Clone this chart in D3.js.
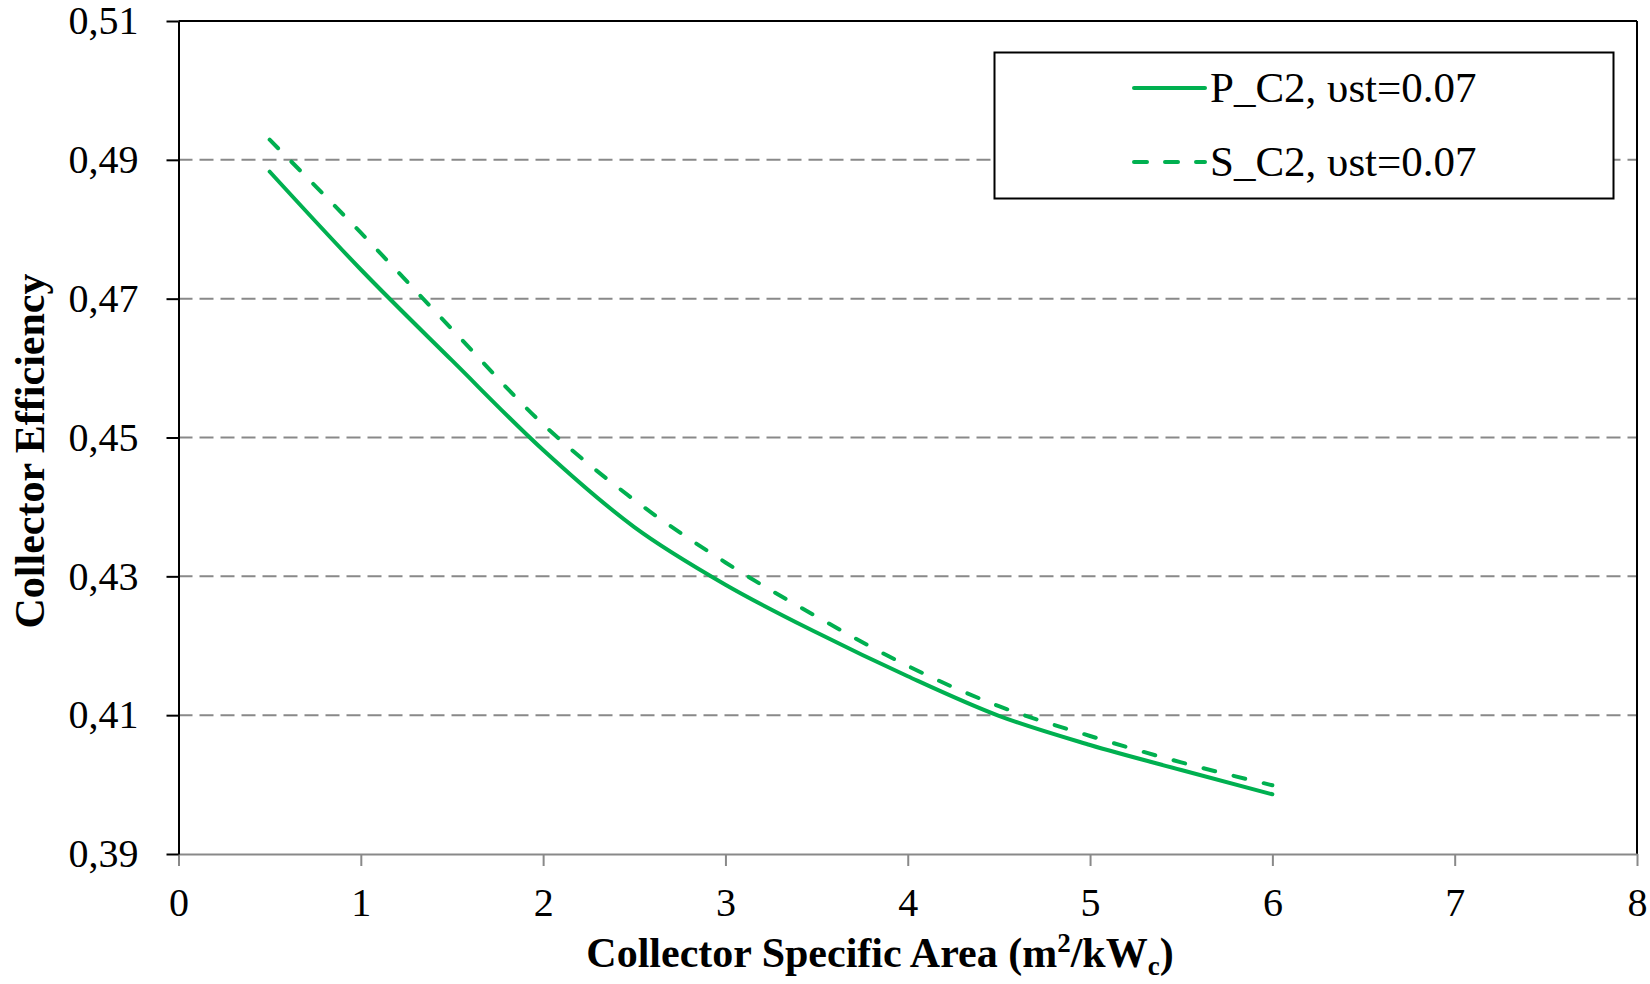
<!DOCTYPE html>
<html>
<head>
<meta charset="utf-8">
<script src="https://cdnjs.cloudflare.com/ajax/libs/d3/7.8.5/d3.min.js"></script>
<style>
  body { margin: 0; background: #fff; }
  svg text { font-family: "Liberation Serif", "Times New Roman", serif; fill: #000; }
</style>
</head>
<body>
<div id="chart"></div>
<script>
// data
var areas = [0.5, 1, 1.5, 2, 2.5, 3, 3.5, 4, 4.5, 5, 5.5, 6];
var effP = [0.4883, 0.4742, 0.4611, 0.4482, 0.4371, 0.4288, 0.4219, 0.4156, 0.4099, 0.4057, 0.4021, 0.3986];
var effS = [0.4929, 0.4795, 0.4656, 0.4519, 0.4410, 0.4320, 0.4242, 0.4171, 0.4113, 0.4070, 0.4032, 0.3999];
var seriesNames = ['P_C2, \u03c5st=0.07', 'S_C2, \u03c5st=0.07'];
var xTicks = [0, 1, 2, 3, 4, 5, 6, 7, 8];
var yTicks = [0.39, 0.41, 0.43, 0.45, 0.47, 0.49, 0.51];

var width = 1650, height = 984;
var plotLeft = 178.5, plotRight = 1637, plotTop = 21, plotBottom = 854;
var green = '#00B050';

var svg = d3.select('#chart')
  .append('svg')
  .attr('width', width)
  .attr('height', height);

var x = d3.scaleLinear().domain([0, 8]).range([plotLeft, plotRight]);
var y = d3.scaleLinear().domain([0.39, 0.51]).range([plotBottom, plotTop]);

// dashed gridlines
svg.append('g')
  .selectAll('line')
  .data(yTicks.slice(1, -1))
  .enter()
  .append('line')
  .attr('x1', plotLeft)
  .attr('x2', plotRight)
  .attr('y1', function(d) { return y(d); })
  .attr('y2', function(d) { return y(d); })
  .attr('stroke', '#898989')
  .attr('stroke-width', 2)
  .attr('stroke-dasharray', '14,7');

// top and right frame
svg.append('line')
  .attr('x1', plotLeft).attr('x2', plotRight)
  .attr('y1', y(0.51)).attr('y2', y(0.51))
  .attr('stroke', '#000').attr('stroke-width', 2);
svg.append('line')
  .attr('x1', plotRight).attr('x2', plotRight)
  .attr('y1', plotTop).attr('y2', plotBottom)
  .attr('stroke', '#000').attr('stroke-width', 2);

// x axis (grey)
var xAxis = svg.append('g')
  .attr('transform', 'translate(0,' + plotBottom + ')')
  .call(d3.axisBottom(x).tickValues(xTicks).tickSize(12).tickPadding(22).tickSizeOuter(0));
xAxis.select('.domain').attr('stroke', '#898989').attr('stroke-width', 2);
xAxis.selectAll('.tick line').attr('stroke', '#898989').attr('stroke-width', 2);
xAxis.selectAll('text').style('font-size', '40px').style('font-family', '"Liberation Serif", serif');

// y axis (black)
var yAxis = svg.append('g')
  .attr('transform', 'translate(' + plotLeft + ',0)')
  .call(d3.axisLeft(y).tickValues(yTicks).tickSize(12).tickPadding(28).tickSizeOuter(0)
    .tickFormat(function(d) { return d3.format('.2f')(d).replace('.', ','); }));
yAxis.select('.domain').attr('stroke', '#000').attr('stroke-width', 2);
yAxis.selectAll('.tick line').attr('stroke', '#000').attr('stroke-width', 2);
yAxis.selectAll('text').style('font-size', '40px').style('font-family', '"Liberation Serif", serif');

// series
var line = d3.line()
  .curve(d3.curveMonotoneX)
  .x(function(d) { return x(d[0]); })
  .y(function(d) { return y(d[1]); });

svg.append('path')
  .datum(d3.zip(areas, effP))
  .attr('d', line)
  .attr('fill', 'none')
  .attr('stroke', green)
  .attr('stroke-width', 4)
  .attr('stroke-linecap', 'round')
  .attr('stroke-linejoin', 'round');

svg.append('path')
  .datum(d3.zip(areas, effS))
  .attr('d', line)
  .attr('fill', 'none')
  .attr('stroke', green)
  .attr('stroke-width', 4)
  .attr('stroke-linecap', 'round')
  .attr('stroke-linejoin', 'round')
  .attr('stroke-dasharray', '12,19');

// legend
svg.append('rect')
  .attr('x', 994.5).attr('y', 52.5)
  .attr('width', 619).attr('height', 146)
  .attr('fill', '#fff')
  .attr('stroke', '#000')
  .attr('stroke-width', 2);

var legend = svg.selectAll('.legend')
  .data(seriesNames)
  .enter()
  .append('g')
  .attr('class', 'legend')
  .attr('transform', function(d, i) { return 'translate(1134,' + (88 + i * 74) + ')'; });

legend.append('line')
  .attr('x1', 0).attr('x2', 71)
  .attr('stroke', green)
  .attr('stroke-width', 4)
  .attr('stroke-linecap', 'round')
  .attr('stroke-dasharray', function(d, i) { return i ? '13,18' : null; });

legend.append('text')
  .attr('x', 76)
  .attr('y', 14)
  .style('font-size', '43px')
  .text(function(d) { return d; });

// axis titles
var xt = svg.append('text')
  .attr('x', 880)
  .attr('y', 967)
  .attr('text-anchor', 'middle')
  .style('font-size', '42px')
  .style('font-weight', 'bold');
xt.append('tspan').text('Collector Specific Area (m');
xt.append('tspan').attr('dy', -15).style('font-size', '27px').text('2');
xt.append('tspan').attr('dy', 15).text('/kW');
xt.append('tspan').attr('dy', 8).style('font-size', '27px').text('c');
xt.append('tspan').attr('dy', -8).text(')');

svg.append('text')
  .attr('transform', 'translate(44,451) rotate(-90)')
  .attr('text-anchor', 'middle')
  .style('font-size', '42px')
  .style('font-weight', 'bold')
  .text('Collector Efficiency');
</script>
</body>
</html>
